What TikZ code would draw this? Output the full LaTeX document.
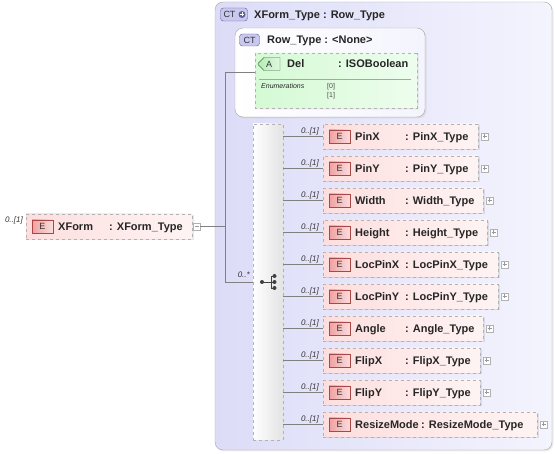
\documentclass[tikz,border=0pt]{standalone}
\usepackage{fontspec}
\setmainfont{Liberation Sans}
\usetikzlibrary{shapes.misc,shadows}

\definecolor{linegray}{RGB}{128,128,128}
\definecolor{ctleft}{RGB}{220,220,248}
\definecolor{ctright}{RGB}{244,244,254}
\definecolor{ctbadge}{RGB}{200,200,240}
\definecolor{ctborder}{RGB}{96,96,140}
\definecolor{epink}{RGB}{253,222,222}
\definecolor{ebadge}{RGB}{240,160,160}
\definecolor{ered}{RGB}{170,70,70}
\definecolor{agreen}{RGB}{212,250,212}
\definecolor{abadge}{RGB}{180,236,180}
\definecolor{aborder}{RGB}{70,110,70}

\begin{document}
\begin{tikzpicture}[x=1pt,y=-1pt]
    \tikzstyle{conn} = [draw=linegray, line width=0.6pt]
    \tikzstyle{ctbox} = [draw=gray!70, rounded corners=8pt, inner sep=0pt]
    \tikzstyle{elem} = [draw=gray!60, dashed, left color=epink, right color=epink!35, minimum height=25pt, inner sep=0pt, drop shadow={opacity=0.18, shadow xshift=1.5pt, shadow yshift=-1.5pt}]
    \tikzstyle{ebadge} = [draw=ered, left color=ebadge, right color=ebadge!35, minimum width=21pt, minimum height=13pt, inner sep=0pt, font=\fontsize{9}{10}\selectfont, text=black!80]
    \tikzstyle{ctlabel} = [draw=ctborder, fill=ctbadge, rounded corners=3pt, inner sep=0pt, font=\fontsize{9}{10}\selectfont, text=black!80]
    \tikzstyle{etext} = [inner sep=0pt, anchor=base west, font=\fontsize{11}{13}\selectfont\bfseries, text=black!85]
    \tikzstyle{mult} = [inner sep=0pt, font=\fontsize{8}{9}\selectfont\itshape, text=black!80]
    \tikzstyle{enum} = [inner sep=0pt, anchor=base west, font=\fontsize{7}{8}\selectfont, text=black!70]
    \tikzstyle{plusbox} = [draw=gray!60, fill=white, minimum size=7pt, inner sep=0pt,
        path picture={\draw[gray!80, line width=0.5pt]
            ([xshift=-2pt]path picture bounding box.center) -- ([xshift=2pt]path picture bounding box.center)
            ([yshift=-2pt]path picture bounding box.center) -- ([yshift=2pt]path picture bounding box.center);}]
    \tikzstyle{minusbox} = [draw=gray!60, fill=white, minimum size=7pt, inner sep=0pt,
        path picture={\draw[gray!80, line width=0.5pt]
            ([xshift=-2pt]path picture bounding box.center) -- ([xshift=2pt]path picture bounding box.center);}]

    \useasboundingbox (0,0) rectangle (555,454);

    % complex type XForm_Type
    \node[ctbox, left color=ctleft, right color=ctright, minimum width=337pt, minimum height=448pt,
          drop shadow={opacity=0.15, shadow xshift=1.5pt, shadow yshift=-1.5pt}] (CT) at (383.5,226) {};
    \node[ctlabel, minimum width=27pt, minimum height=13pt, text width=25pt, align=left] (CT-b) at (234,14.5) {\hspace{2pt}CT};
    \node[circle, fill=ctborder, minimum size=7pt, inner sep=0pt,
          path picture={\draw[white, line width=1pt]
            ([xshift=-2pt]path picture bounding box.center) -- ([xshift=2pt]path picture bounding box.center)
            ([yshift=-2pt]path picture bounding box.center) -- ([yshift=2pt]path picture bounding box.center);}] (CT-p) at (242,14.5) {};
    \node[etext] (CT-t) at (254,18.5) {XForm\_Type : Row\_Type};

    % base type Row_Type
    \node[ctbox, left color=white, right color=ctright, minimum width=190pt, minimum height=89pt,
          drop shadow={opacity=0.15, shadow xshift=1.5pt, shadow yshift=-1.5pt}] (Row) at (330,72.5) {};
    \node[ctlabel, minimum width=20pt, minimum height=12pt] (Row-b) at (249.5,40) {CT};
    \node[etext] (Row-t) at (267,44) {Row\_Type : <None>};

    % attribute Del
    \node[chamfered rectangle, chamfered rectangle corners={north west,south west}, chamfered rectangle xsep=5pt,
          draw=gray!60, dashed, left color=agreen, right color=agreen!40, minimum width=162pt, minimum height=55pt,
          inner sep=0pt, drop shadow={opacity=0.15, shadow xshift=1.5pt, shadow yshift=-1.5pt}] (Del) at (336,80.5) {};
    \node[chamfered rectangle, chamfered rectangle corners={north west,south west}, chamfered rectangle xsep=3pt,
          draw=aborder, left color=abadge, right color=abadge!40, minimum width=22pt, minimum height=13pt,
          inner sep=0pt, font=\fontsize{9}{10}\selectfont, text=black!80] (Del-b) at (269,64) {A};
    \node[etext] (Del-n) at (287,68) {Del};
    \node[etext] (Del-t) at (338,68) {: ISOBoolean};
    \draw[gray!70, line width=0.6pt] (259,79) -- (411,79);
    \node[enum, font=\fontsize{7}{8}\selectfont\itshape, text=black!85] (Del-e) at (261,89) {Enumerations};
    \node[enum] (Del-0) at (327,89) {[0]};
    \node[enum] (Del-1) at (327,97.5) {[1]};

    % sequence
    \node[draw=gray!60, dashed, left color=white, right color=gray!22, minimum width=30pt, minimum height=316pt,
          inner sep=0pt] (S) at (268,282) {};
    \fill[black!75] (262,282) circle (2pt) (274.5,276) circle (2pt) (274.5,282) circle (2pt) (274.5,288) circle (2pt);
    \draw[black!75, line width=0.8pt] (262,282) -- (271,282) (274.5,276) -- (271,276) -- (271,288) -- (274.5,288) (271,282) -- (274.5,282);

    % element XForm
    \node[elem, minimum width=166pt] (X) at (109,226.5) {};
    \node[ebadge] (X-b) at (42.5,226.5) {E};
    \node[etext] (X-n) at (58,230.5) {XForm};
    \node[etext] (X-t) at (109,230.5) {: XForm\_Type};
    \node[minusbox] (X-m) at (196.5,226.5) {};
    \node[mult, anchor=base east] (X-c) at (23,223) {0..[1]};

    % connectors from XForm
    \coordinate (Jx) at (225,226.5);
    \coordinate (Ja) at (225,72);
    \coordinate (Js) at (225,282);
    \draw[conn] (X-m.east) -- (Jx);
    \draw[conn] (Ja) -- (Del.west |- Ja);
    \draw[conn] (Ja) -- (Js) -- (S.west |- Js);
    \node[mult, anchor=base east] (S-c) at (250,278) {0..*};

    % child elements
    \foreach \name/\type/\right/\tx [count=\i, evaluate=\i as \y using 136.5+32*(\i-1),
             evaluate=\right as \w using \right-323] in
        {PinX/PinX\_Type/478/405, PinY/PinY\_Type/478/405, Width/Width\_Type/483/405,
         Height/Height\_Type/487/405, LocPinX/LocPinX\_Type/498/405, LocPinY/LocPinY\_Type/498/405,
         Angle/Angle\_Type/483/405, FlipX/FlipX\_Type/480/405, FlipY/FlipY\_Type/480/405,
         ResizeMode/ResizeMode\_Type/537/421}
    {
        \node[elem, minimum width=\w pt] (E-\i) at ({323+\w/2},\y) {};
        \node[ebadge] (B-\i) at (339.5,\y) {E};
        \node[etext] (N-\i) at (355,{\y+4}) {\name};
        \node[etext] (T-\i) at (\tx,{\y+4}) {: \type};
        \node[plusbox] (P-\i) at ({\right+6.5},\y) {};
        \draw[conn] (S.east |- E-\i.west) -- (E-\i.west);
        \node[mult, anchor=base east] (C-\i) at (319,{\y-3}) {0..[1]};
    }
\end{tikzpicture}
\end{document}
